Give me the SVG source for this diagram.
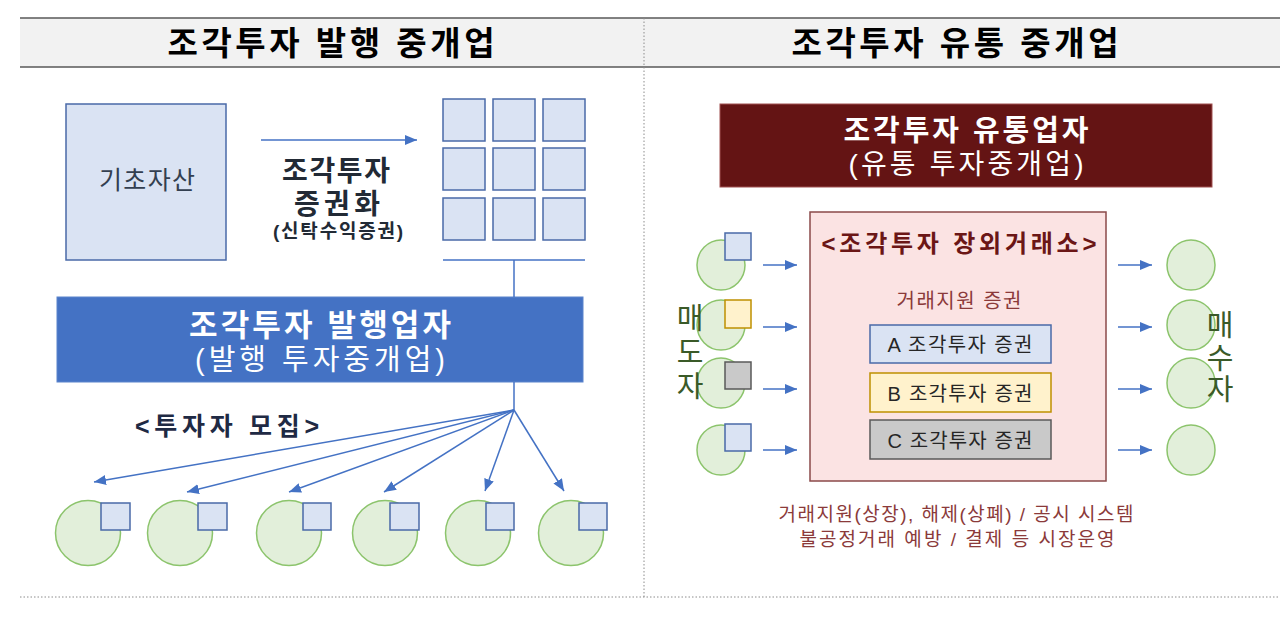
<svg xmlns="http://www.w3.org/2000/svg" width="1280" height="631" viewBox="0 0 1280 631">
<defs>
<style>
text{font-family:'Liberation Sans','Noto Sans CJK KR',sans-serif;text-anchor:middle}
.b{font-weight:bold}
.blk{fill:#dae3f3;stroke:#4a6aa8;stroke-width:1.5}
.yel{fill:#fff2cc;stroke:#bf9000;stroke-width:1.5}
.gry{fill:#c9c9c9;stroke:#595959;stroke-width:1.5}
.cir{fill:#e2efda;stroke:#8cc46c;stroke-width:1.5}
.con{stroke:#4472c4;stroke-width:1.5;fill:none}
.arr{marker-end:url(#ah)}
.dot{stroke:#8c8c8c;stroke-width:1;stroke-dasharray:1.5 2;fill:none}
</style>
<marker id="ah" viewBox="0 0 12 10" refX="12" refY="5" markerWidth="12" markerHeight="10" markerUnits="userSpaceOnUse" orient="auto"><path d="M0,0 L12,5 L0,10 z" fill="#4472c4"/></marker>
</defs>
<rect width="1280" height="631" fill="#ffffff"/>
<g id="header">
<rect x="20" y="18" width="1260" height="49" fill="#f2f2f2"/>
<line x1="20" y1="18" x2="1280" y2="18" stroke="#595959" stroke-width="1.5"/>
<line x1="20" y1="67" x2="1280" y2="67" stroke="#595959" stroke-width="1.5"/>
<text x="331" y="55" class="b" font-size="33" fill="#000" textLength="327" lengthAdjust="spacing">조각투자 발행 중개업</text>
<text x="955" y="55" class="b" font-size="33" fill="#000" textLength="327" lengthAdjust="spacing">조각투자 유통 중개업</text>
</g>
<g id="dividers">
<line class="dot" x1="644" y1="18" x2="644" y2="597"/>
<line class="dot" x1="20" y1="597" x2="1280" y2="597"/>
</g>
<g id="underlying">
<rect x="66" y="104" width="160" height="156" class="blk"/>
<text x="147" y="189" font-size="25" fill="#333f50" textLength="96" lengthAdjust="spacing">기초자산</text>
</g>
<g id="securitize-label" fill="#222a35">
<text x="336" y="181" class="b" font-size="28" textLength="108" lengthAdjust="spacing">조각투자</text>
<text x="337" y="214" class="b" font-size="28" textLength="86" lengthAdjust="spacing">증권화</text>
<text x="338" y="238" class="b" font-size="19" textLength="130" lengthAdjust="spacing">(신탁수익증권)</text>
</g>
<g id="grid">
<rect x="443" y="99" width="42" height="42" class="blk"/>
<rect x="493" y="99" width="42" height="42" class="blk"/>
<rect x="543" y="99" width="42" height="42" class="blk"/>
<rect x="443" y="148" width="42" height="42" class="blk"/>
<rect x="493" y="148" width="42" height="42" class="blk"/>
<rect x="543" y="148" width="42" height="42" class="blk"/>
<rect x="443" y="198" width="42" height="42" class="blk"/>
<rect x="493" y="198" width="42" height="42" class="blk"/>
<rect x="543" y="198" width="42" height="42" class="blk"/>
</g>
<g id="issuer">
<rect x="57" y="297" width="526" height="85" fill="#4472c4" stroke="#5b84cc" stroke-width="1"/>
<text x="320" y="336" class="b" font-size="31" fill="#fff" textLength="262" lengthAdjust="spacing">조각투자 발행업자</text>
<text x="320" y="370" font-size="29" fill="#fff" textLength="250" lengthAdjust="spacing">(발행 투자중개업)</text>
</g>
<g id="recruit-label">
<text x="227" y="435" class="b" font-size="25" fill="#1f2a44" textLength="184" lengthAdjust="spacing">&lt;투자자 모집&gt;</text>
</g>
<g id="investors">
<circle cx="88" cy="533" r="32.5" class="cir"/><rect x="101" y="503" width="29" height="27" class="blk"/>
<circle cx="180" cy="533" r="32.5" class="cir"/><rect x="198" y="503" width="29" height="27" class="blk"/>
<circle cx="289" cy="533" r="32.5" class="cir"/><rect x="303" y="503" width="28" height="27" class="blk"/>
<circle cx="385" cy="533" r="32.5" class="cir"/><rect x="390" y="503" width="29" height="27" class="blk"/>
<circle cx="478" cy="533" r="32.5" class="cir"/><rect x="486" y="503" width="28" height="27" class="blk"/>
<circle cx="571" cy="533" r="32.5" class="cir"/><rect x="579" y="503" width="28" height="27" class="blk"/>
</g>
<g id="distributor">
<rect x="720" y="104" width="492" height="83" fill="#641414" stroke="#a05050" stroke-width="1"/>
<text x="966" y="141" class="b" font-size="29" fill="#fff" textLength="245" lengthAdjust="spacing">조각투자 유통업자</text>
<text x="966" y="174" font-size="28" fill="#fff" textLength="235" lengthAdjust="spacing">(유통 투자중개업)</text>
</g>
<g id="otc-exchange">
<rect x="810" y="212" width="296" height="269" fill="#fbe3e3" stroke="#8b4a4a" stroke-width="1.5"/>
<text x="959" y="252" class="b" font-size="24" fill="#6b1616" textLength="275" lengthAdjust="spacing">&lt;조각투자 장외거래소&gt;</text>
<text x="959" y="308" font-size="20" fill="#8b3a3a" textLength="125" lengthAdjust="spacing">거래지원 증권</text>
</g>
<g id="security-a">
<rect x="870" y="325" width="181" height="38" class="blk"/>
<text x="960" y="352" font-size="20" fill="#262626" textLength="145" lengthAdjust="spacing">A 조각투자 증권</text>
</g>
<g id="security-b">
<rect x="870" y="373" width="181" height="39" class="yel"/>
<text x="960" y="401" font-size="20" fill="#262626" textLength="145" lengthAdjust="spacing">B 조각투자 증권</text>
</g>
<g id="security-c">
<rect x="870" y="420" width="181" height="39" class="gry"/>
<text x="960" y="448" font-size="20" fill="#262626" textLength="145" lengthAdjust="spacing">C 조각투자 증권</text>
</g>
<g id="sellers">
<ellipse cx="721" cy="265" rx="24" ry="25" class="cir"/><rect x="725" y="233" width="26" height="27" class="blk"/>
<ellipse cx="721" cy="325" rx="24" ry="25" class="cir"/><rect x="725" y="300" width="26" height="28" class="yel"/>
<ellipse cx="721" cy="383" rx="24" ry="25" class="cir"/><rect x="725" y="362" width="26" height="27" class="gry"/>
<ellipse cx="721" cy="450" rx="24" ry="25" class="cir"/><rect x="725" y="424" width="26" height="27" class="blk"/>
<text x="690" y="329" font-size="29" fill="#3a5a28">매</text>
<text x="690" y="363" font-size="29" fill="#3a5a28">도</text>
<text x="690" y="397" font-size="29" fill="#3a5a28">자</text>
</g>
<g id="buyers">
<ellipse cx="1191" cy="265" rx="24" ry="25" class="cir"/>
<ellipse cx="1191" cy="325" rx="24" ry="25" class="cir"/>
<ellipse cx="1191" cy="383" rx="24" ry="25" class="cir"/>
<ellipse cx="1191" cy="450" rx="24" ry="25" class="cir"/>
<text x="1220" y="336" font-size="29" fill="#3a5a28">매</text>
<text x="1220" y="369" font-size="29" fill="#3a5a28">수</text>
<text x="1220" y="400" font-size="29" fill="#3a5a28">자</text>
</g>
<g id="market-note" fill="#8b3a3a">
<text x="956" y="521" font-size="19" textLength="355" lengthAdjust="spacing">거래지원(상장), 해제(상폐) / 공시 시스템</text>
<text x="957" y="546" font-size="19" textLength="315" lengthAdjust="spacing">불공정거래 예방 / 결제 등 시장운영</text>
</g>
<g id="connectors">
<line class="con arr" x1="261" y1="140" x2="417" y2="140"/>
<line class="con" x1="443" y1="260" x2="585" y2="260"/>
<line class="con" x1="514" y1="260" x2="514" y2="297"/>
<line class="con" x1="514" y1="382" x2="514" y2="410"/>
<line class="con arr" x1="514" y1="410" x2="94" y2="482"/>
<line class="con arr" x1="514" y1="410" x2="187" y2="492"/>
<line class="con arr" x1="514" y1="410" x2="289" y2="492"/>
<line class="con arr" x1="514" y1="410" x2="384" y2="492"/>
<line class="con arr" x1="514" y1="410" x2="485" y2="491"/>
<line class="con arr" x1="514" y1="410" x2="564" y2="491"/>
<line class="con arr" x1="763" y1="265" x2="797" y2="265"/>
<line class="con arr" x1="763" y1="327" x2="797" y2="327"/>
<line class="con arr" x1="763" y1="389" x2="797" y2="389"/>
<line class="con arr" x1="763" y1="450" x2="797" y2="450"/>
<line class="con arr" x1="1118" y1="265" x2="1152" y2="265"/>
<line class="con arr" x1="1118" y1="327" x2="1152" y2="327"/>
<line class="con arr" x1="1118" y1="389" x2="1152" y2="389"/>
<line class="con arr" x1="1118" y1="450" x2="1152" y2="450"/>
</g>
</svg>
